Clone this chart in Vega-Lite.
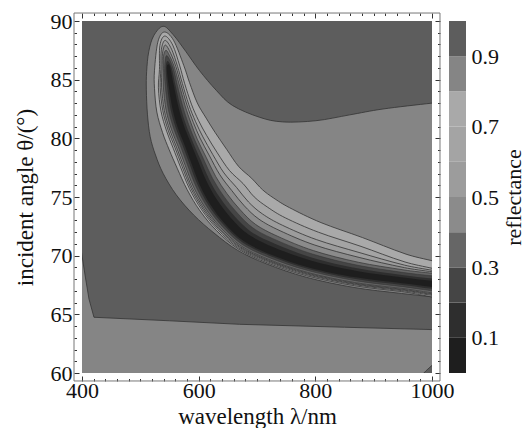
{
"$schema": "https://vega.github.io/schema/vega-lite/v6.json",
"padding": {"left": 14, "top": 10, "right": 1, "bottom": 0},
"bounds": "flush",
"spacing": 17,
"config": {"view": {"stroke": null}, "font": "Liberation Serif, Times New Roman, DejaVu Serif, serif"},
"datasets": {
"bar": [
{"lo":0,"hi":0.1,"v":0.05},{"lo":0.1,"hi":0.2,"v":0.15},{"lo":0.2,"hi":0.3,"v":0.25},{"lo":0.3,"hi":0.4,"v":0.35},{"lo":0.4,"hi":0.5,"v":0.45},
{"lo":0.5,"hi":0.6,"v":0.55},{"lo":0.6,"hi":0.7,"v":0.65},{"lo":0.7,"hi":0.8,"v":0.75},{"lo":0.8,"hi":0.9,"v":0.85},{"lo":0.9,"hi":1.0,"v":0.95}
],
"regions": [
{"g":0,"v":0.95,"x":400,"y":60},{"g":0,"v":0.95,"x":1000,"y":60},{"g":0,"v":0.95,"x":1000,"y":90},{"g":0,"v":0.95,"x":400,"y":90},
{"g":1,"v":0.85,"x":390,"y":73.2},{"g":1,"v":0.85,"x":400,"y":70.0},{"g":1,"v":0.85,"x":406,"y":68.1},{"g":1,"v":0.85,"x":412,"y":66.3},{"g":1,"v":0.85,"x":420.5,"y":64.75},{"g":1,"v":0.85,"x":550,"y":64.45},{"g":1,"v":0.85,"x":670,"y":64.15},{"g":1,"v":0.85,"x":850,"y":63.9},{"g":1,"v":0.85,"x":1000,"y":63.7},{"g":1,"v":0.85,"x":1012,"y":63.68},{"g":1,"v":0.85,"x":1012,"y":55},{"g":1,"v":0.85,"x":390,"y":55},
{"g":2,"v":0.95,"x":978,"y":59.6},{"g":2,"v":0.95,"x":990,"y":60.2},{"g":2,"v":0.95,"x":1000,"y":60.65},{"g":2,"v":0.95,"x":1012,"y":61.2},{"g":2,"v":0.95,"x":1012,"y":55},{"g":2,"v":0.95,"x":978,"y":55},
{"g":3,"v":0.85,"x":539,"y":89.55},{"g":3,"v":0.85,"x":523,"y":88.75},{"g":3,"v":0.85,"x":514.5,"y":87.4},{"g":3,"v":0.85,"x":510.8,"y":85.68},{"g":3,"v":0.85,"x":510.3,"y":84.13},{"g":3,"v":0.85,"x":512.2,"y":82.06},{"g":3,"v":0.85,"x":516.9,"y":80.14},{"g":3,"v":0.85,"x":526.0,"y":78.58},{"g":3,"v":0.85,"x":539.2,"y":77.0},{"g":3,"v":0.85,"x":561.5,"y":75.19},{"g":3,"v":0.85,"x":591.4,"y":73.47},{"g":3,"v":0.85,"x":626.3,"y":71.93},{"g":3,"v":0.85,"x":667.0,"y":70.45},{"g":3,"v":0.85,"x":716.8,"y":69.29},{"g":3,"v":0.85,"x":784.4,"y":68.16},{"g":3,"v":0.85,"x":866.4,"y":67.29},{"g":3,"v":0.85,"x":947.5,"y":66.78},{"g":3,"v":0.85,"x":1037.6,"y":66.28},{"g":3,"v":0.85,"x":1060,"y":66.1},{"g":3,"v":0.85,"x":1060,"y":83.3},{"g":3,"v":0.85,"x":1000,"y":83.0},{"g":3,"v":0.85,"x":916,"y":82.5},{"g":3,"v":0.85,"x":859,"y":82.0},{"g":3,"v":0.85,"x":801,"y":81.5},{"g":3,"v":0.85,"x":744,"y":81.4},{"g":3,"v":0.85,"x":704,"y":81.8},{"g":3,"v":0.85,"x":658,"y":82.8},{"g":3,"v":0.85,"x":630,"y":84.1},{"g":3,"v":0.85,"x":601,"y":85.8},{"g":3,"v":0.85,"x":578,"y":87.4},{"g":3,"v":0.85,"x":556,"y":88.85},
{"g":4,"v":0.75,"x":541,"y":89.06},{"g":4,"v":0.75,"x":530,"y":88.2},{"g":4,"v":0.75,"x":524.3,"y":85.80},{"g":4,"v":0.75,"x":524.3,"y":84.25},{"g":4,"v":0.75,"x":528.3,"y":82.24},{"g":4,"v":0.75,"x":538.1,"y":80.49},{"g":4,"v":0.75,"x":549.5,"y":79.02},{"g":4,"v":0.75,"x":563.2,"y":77.45},{"g":4,"v":0.75,"x":580.3,"y":75.62},{"g":4,"v":0.75,"x":602.3,"y":73.82},{"g":4,"v":0.75,"x":630.8,"y":72.13},{"g":4,"v":0.75,"x":668.4,"y":70.56},{"g":4,"v":0.75,"x":717.6,"y":69.39},{"g":4,"v":0.75,"x":785.1,"y":68.29},{"g":4,"v":0.75,"x":866.9,"y":67.44},{"g":4,"v":0.75,"x":947.8,"y":66.94},{"g":4,"v":0.75,"x":1037.9,"y":66.44},{"g":4,"v":0.75,"x":1043.3,"y":68.79},{"g":4,"v":0.75,"x":955.5,"y":70.13},{"g":4,"v":0.75,"x":880.9,"y":71.54},{"g":4,"v":0.75,"x":809.6,"y":72.82},{"g":4,"v":0.75,"x":755.8,"y":74.09},{"g":4,"v":0.75,"x":728.3,"y":74.92},{"g":4,"v":0.75,"x":709.2,"y":75.63},{"g":4,"v":0.75,"x":690.7,"y":76.60},{"g":4,"v":0.75,"x":668.4,"y":77.61},{"g":4,"v":0.75,"x":648.0,"y":79.06},{"g":4,"v":0.75,"x":628.1,"y":80.51},{"g":4,"v":0.75,"x":612.9,"y":81.72},{"g":4,"v":0.75,"x":597.6,"y":83.02},{"g":4,"v":0.75,"x":584.2,"y":84.77},{"g":4,"v":0.75,"x":574.4,"y":86.22},{"g":4,"v":0.75,"x":557,"y":88.35},
{"g":5,"v":0.65,"x":542,"y":88.72},{"g":5,"v":0.65,"x":533.5,"y":87.9},{"g":5,"v":0.65,"x":532.8,"y":85.87},{"g":5,"v":0.65,"x":531.0,"y":84.31},{"g":5,"v":0.65,"x":535.4,"y":82.32},{"g":5,"v":0.65,"x":545.1,"y":80.61},{"g":5,"v":0.65,"x":556.4,"y":79.15},{"g":5,"v":0.65,"x":568.8,"y":77.56},{"g":5,"v":0.65,"x":584.2,"y":75.71},{"g":5,"v":0.65,"x":605.2,"y":73.91},{"g":5,"v":0.65,"x":632.7,"y":72.22},{"g":5,"v":0.65,"x":669.4,"y":70.63},{"g":5,"v":0.65,"x":718.3,"y":69.48},{"g":5,"v":0.65,"x":785.5,"y":68.38},{"g":5,"v":0.65,"x":867.2,"y":67.53},{"g":5,"v":0.65,"x":948.0,"y":67.02},{"g":5,"v":0.65,"x":1038.1,"y":66.52},{"g":5,"v":0.65,"x":1042.1,"y":68.28},{"g":5,"v":0.65,"x":953.8,"y":69.46},{"g":5,"v":0.65,"x":878.3,"y":70.79},{"g":5,"v":0.65,"x":805.2,"y":72.0},{"g":5,"v":0.65,"x":748.7,"y":73.22},{"g":5,"v":0.65,"x":717.6,"y":74.15},{"g":5,"v":0.65,"x":695.2,"y":75.01},{"g":5,"v":0.65,"x":676.2,"y":76.14},{"g":5,"v":0.65,"x":652.8,"y":77.26},{"g":5,"v":0.65,"x":632.0,"y":78.76},{"g":5,"v":0.65,"x":613.7,"y":80.24},{"g":5,"v":0.65,"x":599.9,"y":81.51},{"g":5,"v":0.65,"x":587.6,"y":82.91},{"g":5,"v":0.65,"x":575.8,"y":84.70},{"g":5,"v":0.65,"x":567.6,"y":86.17},{"g":5,"v":0.65,"x":555.5,"y":87.95},
{"g":6,"v":0.55,"x":542.5,"y":88.35},{"g":6,"v":0.55,"x":536,"y":87.55},{"g":6,"v":0.55,"x":535.2,"y":85.89},{"g":6,"v":0.55,"x":534.0,"y":84.33},{"g":6,"v":0.55,"x":538.5,"y":82.36},{"g":6,"v":0.55,"x":548.0,"y":80.65},{"g":6,"v":0.55,"x":559.4,"y":79.21},{"g":6,"v":0.55,"x":571.6,"y":77.61},{"g":6,"v":0.55,"x":586.6,"y":75.76},{"g":6,"v":0.55,"x":607.2,"y":73.97},{"g":6,"v":0.55,"x":634.3,"y":72.29},{"g":6,"v":0.55,"x":670.4,"y":70.70},{"g":6,"v":0.55,"x":718.9,"y":69.55},{"g":6,"v":0.55,"x":785.9,"y":68.45},{"g":6,"v":0.55,"x":867.4,"y":67.59},{"g":6,"v":0.55,"x":948.2,"y":67.09},{"g":6,"v":0.55,"x":1038.3,"y":66.59},{"g":6,"v":0.55,"x":1042.0,"y":68.21},{"g":6,"v":0.55,"x":953.2,"y":69.19},{"g":6,"v":0.55,"x":876.5,"y":70.25},{"g":6,"v":0.55,"x":801.8,"y":71.37},{"g":6,"v":0.55,"x":743.6,"y":72.59},{"g":6,"v":0.55,"x":709.5,"y":73.55},{"g":6,"v":0.55,"x":685.5,"y":74.57},{"g":6,"v":0.55,"x":665.2,"y":75.80},{"g":6,"v":0.55,"x":643.4,"y":77.05},{"g":6,"v":0.55,"x":624.3,"y":78.61},{"g":6,"v":0.55,"x":607.3,"y":80.12},{"g":6,"v":0.55,"x":594.7,"y":81.42},{"g":6,"v":0.55,"x":583.2,"y":82.86},{"g":6,"v":0.55,"x":572.1,"y":84.67},{"g":6,"v":0.55,"x":563.8,"y":86.13},{"g":6,"v":0.55,"x":553.5,"y":87.6},
{"g":7,"v":0.45,"x":543,"y":87.95},{"g":7,"v":0.45,"x":538,"y":87.25},{"g":7,"v":0.45,"x":537.2,"y":85.91},{"g":7,"v":0.45,"x":536.5,"y":84.36},{"g":7,"v":0.45,"x":541.1,"y":82.39},{"g":7,"v":0.45,"x":550.6,"y":80.70},{"g":7,"v":0.45,"x":561.9,"y":79.26},{"g":7,"v":0.45,"x":574.0,"y":77.66},{"g":7,"v":0.45,"x":588.7,"y":75.81},{"g":7,"v":0.45,"x":608.9,"y":74.03},{"g":7,"v":0.45,"x":635.6,"y":72.35},{"g":7,"v":0.45,"x":671.3,"y":70.76},{"g":7,"v":0.45,"x":719.4,"y":69.61},{"g":7,"v":0.45,"x":786.2,"y":68.51},{"g":7,"v":0.45,"x":867.6,"y":67.65},{"g":7,"v":0.45,"x":948.3,"y":67.14},{"g":7,"v":0.45,"x":1038.4,"y":66.64},{"g":7,"v":0.45,"x":1041.8,"y":68.16},{"g":7,"v":0.45,"x":952.7,"y":68.98},{"g":7,"v":0.45,"x":875.1,"y":69.85},{"g":7,"v":0.45,"x":799.2,"y":70.90},{"g":7,"v":0.45,"x":739.7,"y":72.12},{"g":7,"v":0.45,"x":703.4,"y":73.11},{"g":7,"v":0.45,"x":678.2,"y":74.25},{"g":7,"v":0.45,"x":656.9,"y":75.54},{"g":7,"v":0.45,"x":636.4,"y":76.89},{"g":7,"v":0.45,"x":618.6,"y":78.50},{"g":7,"v":0.45,"x":602.4,"y":80.02},{"g":7,"v":0.45,"x":590.8,"y":81.36},{"g":7,"v":0.45,"x":580.0,"y":82.83},{"g":7,"v":0.45,"x":569.3,"y":84.64},{"g":7,"v":0.45,"x":561.0,"y":86.11},{"g":7,"v":0.45,"x":552,"y":87.25},
{"g":8,"v":0.35,"x":544,"y":87.5},{"g":8,"v":0.35,"x":539.5,"y":86.95},{"g":8,"v":0.35,"x":539.6,"y":85.93},{"g":8,"v":0.35,"x":539.5,"y":84.38},{"g":8,"v":0.35,"x":544.1,"y":82.42},{"g":8,"v":0.35,"x":553.5,"y":80.74},{"g":8,"v":0.35,"x":564.8,"y":79.31},{"g":8,"v":0.35,"x":576.8,"y":77.71},{"g":8,"v":0.35,"x":591.2,"y":75.86},{"g":8,"v":0.35,"x":611.0,"y":74.09},{"g":8,"v":0.35,"x":637.2,"y":72.42},{"g":8,"v":0.35,"x":672.3,"y":70.84},{"g":8,"v":0.35,"x":720.0,"y":69.68},{"g":8,"v":0.35,"x":786.6,"y":68.57},{"g":8,"v":0.35,"x":867.8,"y":67.71},{"g":8,"v":0.35,"x":948.5,"y":67.21},{"g":8,"v":0.35,"x":1038.5,"y":66.71},{"g":8,"v":0.35,"x":1041.7,"y":68.11},{"g":8,"v":0.35,"x":952.2,"y":68.78},{"g":8,"v":0.35,"x":873.7,"y":69.44},{"g":8,"v":0.35,"x":796.7,"y":70.43},{"g":8,"v":0.35,"x":735.9,"y":71.64},{"g":8,"v":0.35,"x":697.4,"y":72.67},{"g":8,"v":0.35,"x":671.0,"y":73.92},{"g":8,"v":0.35,"x":648.6,"y":75.28},{"g":8,"v":0.35,"x":629.4,"y":76.73},{"g":8,"v":0.35,"x":612.8,"y":78.39},{"g":8,"v":0.35,"x":597.6,"y":79.93},{"g":8,"v":0.35,"x":586.9,"y":81.30},{"g":8,"v":0.35,"x":576.7,"y":82.79},{"g":8,"v":0.35,"x":566.5,"y":84.62},{"g":8,"v":0.35,"x":558.1,"y":86.09},{"g":8,"v":0.35,"x":551,"y":86.95},
{"g":9,"v":0.25,"x":545,"y":87.05},{"g":9,"v":0.25,"x":541.6,"y":85.95},{"g":9,"v":0.25,"x":542.8,"y":84.41},{"g":9,"v":0.25,"x":548.0,"y":82.46},{"g":9,"v":0.25,"x":557.3,"y":80.81},{"g":9,"v":0.25,"x":568.5,"y":79.38},{"g":9,"v":0.25,"x":580.5,"y":77.78},{"g":9,"v":0.25,"x":594.8,"y":75.95},{"g":9,"v":0.25,"x":614.1,"y":74.19},{"g":9,"v":0.25,"x":639.8,"y":72.53},{"g":9,"v":0.25,"x":674.2,"y":70.97},{"g":9,"v":0.25,"x":721.2,"y":69.83},{"g":9,"v":0.25,"x":787.4,"y":68.73},{"g":9,"v":0.25,"x":868.4,"y":67.87},{"g":9,"v":0.25,"x":948.8,"y":67.36},{"g":9,"v":0.25,"x":1038.9,"y":66.86},{"g":9,"v":0.25,"x":1041.3,"y":67.93},{"g":9,"v":0.25,"x":951.7,"y":68.56},{"g":9,"v":0.25,"x":872.8,"y":69.18},{"g":9,"v":0.25,"x":795.1,"y":70.14},{"g":9,"v":0.25,"x":733.3,"y":71.32},{"g":9,"v":0.25,"x":693.2,"y":72.36},{"g":9,"v":0.25,"x":665.4,"y":73.68},{"g":9,"v":0.25,"x":642.7,"y":75.09},{"g":9,"v":0.25,"x":623.7,"y":76.60},{"g":9,"v":0.25,"x":607.8,"y":78.30},{"g":9,"v":0.25,"x":593.4,"y":79.85},{"g":9,"v":0.25,"x":582.6,"y":81.22},{"g":9,"v":0.25,"x":572.7,"y":82.74},{"g":9,"v":0.25,"x":563.2,"y":84.59},{"g":9,"v":0.25,"x":555.7,"y":86.07},
{"g":10,"v":0.15,"x":546.5,"y":86.6},{"g":10,"v":0.15,"x":543.6,"y":85.96},{"g":10,"v":0.15,"x":545.9,"y":84.44},{"g":10,"v":0.15,"x":551.6,"y":82.51},{"g":10,"v":0.15,"x":560.9,"y":80.87},{"g":10,"v":0.15,"x":572.0,"y":79.45},{"g":10,"v":0.15,"x":584.0,"y":77.85},{"g":10,"v":0.15,"x":598.2,"y":76.02},{"g":10,"v":0.15,"x":617.1,"y":74.28},{"g":10,"v":0.15,"x":642.3,"y":72.65},{"g":10,"v":0.15,"x":675.9,"y":71.10},{"g":10,"v":0.15,"x":722.4,"y":69.98},{"g":10,"v":0.15,"x":788.2,"y":68.87},{"g":10,"v":0.15,"x":868.9,"y":68.01},{"g":10,"v":0.15,"x":949.2,"y":67.51},{"g":10,"v":0.15,"x":1039.2,"y":67.01},{"g":10,"v":0.15,"x":1040.9,"y":67.75},{"g":10,"v":0.15,"x":951.2,"y":68.34},{"g":10,"v":0.15,"x":872.0,"y":68.92},{"g":10,"v":0.15,"x":793.5,"y":69.85},{"g":10,"v":0.15,"x":730.7,"y":71.01},{"g":10,"v":0.15,"x":689.1,"y":72.07},{"g":10,"v":0.15,"x":660.1,"y":73.44},{"g":10,"v":0.15,"x":637.0,"y":74.91},{"g":10,"v":0.15,"x":618.3,"y":76.48},{"g":10,"v":0.15,"x":603.0,"y":78.21},{"g":10,"v":0.15,"x":589.3,"y":79.78},{"g":10,"v":0.15,"x":578.4,"y":81.16},{"g":10,"v":0.15,"x":568.8,"y":82.70},{"g":10,"v":0.15,"x":560.1,"y":84.56},{"g":10,"v":0.15,"x":553.3,"y":86.05},
{"g":11,"v":0.05,"x":548,"y":86.3},{"g":11,"v":0.05,"x":545.3,"y":85.98},{"g":11,"v":0.05,"x":548.7,"y":84.46},{"g":11,"v":0.05,"x":555.0,"y":82.54},{"g":11,"v":0.05,"x":564.1,"y":80.92},{"g":11,"v":0.05,"x":575.2,"y":79.51},{"g":11,"v":0.05,"x":587.2,"y":77.91},{"g":11,"v":0.05,"x":601.3,"y":76.09},{"g":11,"v":0.05,"x":619.9,"y":74.37},{"g":11,"v":0.05,"x":644.6,"y":72.75},{"g":11,"v":0.05,"x":677.6,"y":71.22},{"g":11,"v":0.05,"x":723.4,"y":70.11},{"g":11,"v":0.05,"x":788.9,"y":69.0},{"g":11,"v":0.05,"x":869.3,"y":68.15},{"g":11,"v":0.05,"x":949.5,"y":67.65},{"g":11,"v":0.05,"x":1039.5,"y":67.15},{"g":11,"v":0.05,"x":1040.5,"y":67.59},{"g":11,"v":0.05,"x":950.7,"y":68.14},{"g":11,"v":0.05,"x":871.2,"y":68.70},{"g":11,"v":0.05,"x":792.1,"y":69.59},{"g":11,"v":0.05,"x":728.4,"y":70.72},{"g":11,"v":0.05,"x":685.5,"y":71.80},{"g":11,"v":0.05,"x":655.3,"y":73.22},{"g":11,"v":0.05,"x":631.8,"y":74.74},{"g":11,"v":0.05,"x":613.4,"y":76.37},{"g":11,"v":0.05,"x":598.6,"y":78.12},{"g":11,"v":0.05,"x":585.6,"y":79.71},{"g":11,"v":0.05,"x":574.7,"y":81.09},{"g":11,"v":0.05,"x":565.3,"y":82.66},{"g":11,"v":0.05,"x":557.3,"y":84.54},{"g":11,"v":0.05,"x":551.2,"y":86.03}
]
},
"hconcat": [
{
"width": 350, "height": 352,
"data": {"name": "regions"},
"resolve": {"axis": {"x": "independent", "y": "independent"}},
"layer": [
{"transform": [{"filter": "datum.g == 0"}],
 "mark": {"type": "line", "interpolate": "linear-closed", "strokeOpacity": 0, "clip": true},
 "encoding": {
  "x": {"field": "x", "type": "quantitative", "scale": {"domain": [400, 1000], "nice": false, "zero": false},
        "axis": {"orient": "bottom", "offset": 8, "values": [400, 600, 800, 1000], "format": "d", "tickSize": -5, "tickColor": "#333", "domain": false, "grid": false, "labelFont": "Liberation Serif, Times New Roman, DejaVu Serif, serif", "labelFontSize": 22, "labelColor": "#111", "labelPadding": 4, "labelFlush": false, "labelOverlap": false, "title": "wavelength λ/nm", "titleFont": "Liberation Serif, Times New Roman, DejaVu Serif, serif", "titleFontSize": 23, "titleFontWeight": "normal", "titleColor": "#111", "titlePadding": 4}},
  "y": {"field": "y", "type": "quantitative", "scale": {"domain": [60, 90], "nice": false, "zero": false},
        "axis": {"orient": "left", "offset": 8, "values": [60, 65, 70, 75, 80, 85, 90], "tickSize": -5, "tickColor": "#333", "domain": false, "grid": false, "labelFont": "Liberation Serif, Times New Roman, DejaVu Serif, serif", "labelFontSize": 22, "labelColor": "#111", "labelPadding": 7, "labelFlush": false, "labelOverlap": false, "title": "incident angle θ/(°)", "titleFont": "Liberation Serif, Times New Roman, DejaVu Serif, serif", "titleFontSize": 23, "titleFontWeight": "normal", "titleColor": "#111", "titlePadding": 13}},
  "order": {"value": null},
  "fill": {"field": "v", "type": "quantitative", "scale": {"type": "threshold", "domain": [0.1,0.2,0.3,0.4,0.5,0.6,0.7,0.8,0.9], "range": ["#1e1e1e","#2e2e2e","#454545","#666666","#8b8b8b","#9c9c9c","#a4a4a4","#a9a9a9","#858585","#5d5d5d"]}, "legend": null}
 }},
{"transform": [{"filter": "datum.g == 1"}],
 "mark": {"type": "line", "interpolate": "linear-closed", "stroke": "#333333", "strokeWidth": 0.8, "clip": true},
 "encoding": {
  "x": {"field": "x", "type": "quantitative", "scale": {"domain": [400, 1000], "nice": false, "zero": false},
        "axis": {"orient": "bottom", "offset": 8, "values": [420,440,460,480,500,520,540,560,580,620,640,660,680,700,720,740,760,780,820,840,860,880,900,920,940,960,980], "tickSize": -2.5, "tickColor": "#333", "labels": false, "domain": false, "grid": false, "title": null}},
  "y": {"field": "y", "type": "quantitative", "scale": {"domain": [60, 90], "nice": false, "zero": false},
        "axis": {"orient": "left", "offset": 8, "values": [61,62,63,64,66,67,68,69,71,72,73,74,76,77,78,79,81,82,83,84,86,87,88,89], "tickSize": -2.5, "tickColor": "#333", "labels": false, "domain": false, "grid": false, "title": null}},
  "order": {"value": null},
  "fill": {"field": "v", "type": "quantitative", "scale": {"type": "threshold", "domain": [0.1,0.2,0.3,0.4,0.5,0.6,0.7,0.8,0.9], "range": ["#1e1e1e","#2e2e2e","#454545","#666666","#8b8b8b","#9c9c9c","#a4a4a4","#a9a9a9","#858585","#5d5d5d"]}, "legend": null}
 }},
{"transform": [{"filter": "datum.g == 2"}],
 "mark": {"type": "line", "interpolate": "linear-closed", "stroke": "#333333", "strokeWidth": 0.8, "clip": true},
 "encoding": {
  "x": {"field": "x", "type": "quantitative", "scale": {"domain": [400, 1000], "nice": false, "zero": false},
        "axis": {"orient": "top", "offset": 8, "values": [400, 600, 800, 1000], "tickSize": -5, "tickColor": "#333", "labels": false, "domain": false, "grid": false, "title": null}},
  "y": {"field": "y", "type": "quantitative", "scale": {"domain": [60, 90], "nice": false, "zero": false},
        "axis": {"orient": "right", "offset": 8, "values": [60, 65, 70, 75, 80, 85, 90], "tickSize": -5, "tickColor": "#333", "labels": false, "domain": false, "grid": false, "title": null}},
  "order": {"value": null},
  "fill": {"field": "v", "type": "quantitative", "scale": {"type": "threshold", "domain": [0.1,0.2,0.3,0.4,0.5,0.6,0.7,0.8,0.9], "range": ["#1e1e1e","#2e2e2e","#454545","#666666","#8b8b8b","#9c9c9c","#a4a4a4","#a9a9a9","#858585","#5d5d5d"]}, "legend": null}
 }},
{"transform": [{"filter": "datum.g == 3"}],
 "mark": {"type": "line", "interpolate": "cardinal-closed", "stroke": "#333333", "strokeWidth": 0.8, "clip": true},
 "encoding": {
  "x": {"field": "x", "type": "quantitative", "scale": {"domain": [400, 1000], "nice": false, "zero": false},
        "axis": {"orient": "top", "offset": 8, "values": [420,440,460,480,500,520,540,560,580,620,640,660,680,700,720,740,760,780,820,840,860,880,900,920,940,960,980], "tickSize": -2.5, "tickColor": "#333", "labels": false, "domain": false, "grid": false, "title": null}},
  "y": {"field": "y", "type": "quantitative", "scale": {"domain": [60, 90], "nice": false, "zero": false},
        "axis": {"orient": "right", "offset": 8, "values": [61,62,63,64,66,67,68,69,71,72,73,74,76,77,78,79,81,82,83,84,86,87,88,89], "tickSize": -2.5, "tickColor": "#333", "labels": false, "domain": false, "grid": false, "title": null}},
  "order": {"value": null},
  "fill": {"field": "v", "type": "quantitative", "scale": {"type": "threshold", "domain": [0.1,0.2,0.3,0.4,0.5,0.6,0.7,0.8,0.9], "range": ["#1e1e1e","#2e2e2e","#454545","#666666","#8b8b8b","#9c9c9c","#a4a4a4","#a9a9a9","#858585","#5d5d5d"]}, "legend": null}
 }},
{"transform": [{"filter": "datum.g == 4"}],
 "mark": {"type": "line", "interpolate": "cardinal-closed", "stroke": "#333333", "strokeWidth": 0.8, "clip": true},
 "encoding": {
  "x": {"field": "x", "type": "quantitative", "scale": {"domain": [400, 1000], "nice": false, "zero": false}, "axis": null},
  "y": {"field": "y", "type": "quantitative", "scale": {"domain": [60, 90], "nice": false, "zero": false}, "axis": null},
  "order": {"value": null},
  "fill": {"field": "v", "type": "quantitative", "scale": {"type": "threshold", "domain": [0.1,0.2,0.3,0.4,0.5,0.6,0.7,0.8,0.9], "range": ["#1e1e1e","#2e2e2e","#454545","#666666","#8b8b8b","#9c9c9c","#a4a4a4","#a9a9a9","#858585","#5d5d5d"]}, "legend": null}
 }},
{"transform": [{"filter": "datum.g == 5"}],
 "mark": {"type": "line", "interpolate": "cardinal-closed", "stroke": "#333333", "strokeWidth": 0.8, "clip": true},
 "encoding": {
  "x": {"field": "x", "type": "quantitative", "scale": {"domain": [400, 1000], "nice": false, "zero": false}, "axis": null},
  "y": {"field": "y", "type": "quantitative", "scale": {"domain": [60, 90], "nice": false, "zero": false}, "axis": null},
  "order": {"value": null},
  "fill": {"field": "v", "type": "quantitative", "scale": {"type": "threshold", "domain": [0.1,0.2,0.3,0.4,0.5,0.6,0.7,0.8,0.9], "range": ["#1e1e1e","#2e2e2e","#454545","#666666","#8b8b8b","#9c9c9c","#a4a4a4","#a9a9a9","#858585","#5d5d5d"]}, "legend": null}
 }},
{"transform": [{"filter": "datum.g == 6"}],
 "mark": {"type": "line", "interpolate": "cardinal-closed", "stroke": "#333333", "strokeWidth": 0.8, "clip": true},
 "encoding": {
  "x": {"field": "x", "type": "quantitative", "scale": {"domain": [400, 1000], "nice": false, "zero": false}, "axis": null},
  "y": {"field": "y", "type": "quantitative", "scale": {"domain": [60, 90], "nice": false, "zero": false}, "axis": null},
  "order": {"value": null},
  "fill": {"field": "v", "type": "quantitative", "scale": {"type": "threshold", "domain": [0.1,0.2,0.3,0.4,0.5,0.6,0.7,0.8,0.9], "range": ["#1e1e1e","#2e2e2e","#454545","#666666","#8b8b8b","#9c9c9c","#a4a4a4","#a9a9a9","#858585","#5d5d5d"]}, "legend": null}
 }},
{"transform": [{"filter": "datum.g == 7"}],
 "mark": {"type": "line", "interpolate": "cardinal-closed", "stroke": "#333333", "strokeWidth": 0.8, "clip": true},
 "encoding": {
  "x": {"field": "x", "type": "quantitative", "scale": {"domain": [400, 1000], "nice": false, "zero": false}, "axis": null},
  "y": {"field": "y", "type": "quantitative", "scale": {"domain": [60, 90], "nice": false, "zero": false}, "axis": null},
  "order": {"value": null},
  "fill": {"field": "v", "type": "quantitative", "scale": {"type": "threshold", "domain": [0.1,0.2,0.3,0.4,0.5,0.6,0.7,0.8,0.9], "range": ["#1e1e1e","#2e2e2e","#454545","#666666","#8b8b8b","#9c9c9c","#a4a4a4","#a9a9a9","#858585","#5d5d5d"]}, "legend": null}
 }},
{"transform": [{"filter": "datum.g == 8"}],
 "mark": {"type": "line", "interpolate": "cardinal-closed", "stroke": "#333333", "strokeWidth": 0.7, "clip": true},
 "encoding": {
  "x": {"field": "x", "type": "quantitative", "scale": {"domain": [400, 1000], "nice": false, "zero": false}, "axis": null},
  "y": {"field": "y", "type": "quantitative", "scale": {"domain": [60, 90], "nice": false, "zero": false}, "axis": null},
  "order": {"value": null},
  "fill": {"field": "v", "type": "quantitative", "scale": {"type": "threshold", "domain": [0.1,0.2,0.3,0.4,0.5,0.6,0.7,0.8,0.9], "range": ["#1e1e1e","#2e2e2e","#454545","#666666","#8b8b8b","#9c9c9c","#a4a4a4","#a9a9a9","#858585","#5d5d5d"]}, "legend": null}
 }},
{"transform": [{"filter": "datum.g == 9"}],
 "mark": {"type": "line", "interpolate": "cardinal-closed", "stroke": "#333333", "strokeWidth": 0.5, "clip": true},
 "encoding": {
  "x": {"field": "x", "type": "quantitative", "scale": {"domain": [400, 1000], "nice": false, "zero": false}, "axis": null},
  "y": {"field": "y", "type": "quantitative", "scale": {"domain": [60, 90], "nice": false, "zero": false}, "axis": null},
  "order": {"value": null},
  "fill": {"field": "v", "type": "quantitative", "scale": {"type": "threshold", "domain": [0.1,0.2,0.3,0.4,0.5,0.6,0.7,0.8,0.9], "range": ["#1e1e1e","#2e2e2e","#454545","#666666","#8b8b8b","#9c9c9c","#a4a4a4","#a9a9a9","#858585","#5d5d5d"]}, "legend": null}
 }},
{"transform": [{"filter": "datum.g == 10"}],
 "mark": {"type": "line", "interpolate": "cardinal-closed", "strokeOpacity": 0, "clip": true},
 "encoding": {
  "x": {"field": "x", "type": "quantitative", "scale": {"domain": [400, 1000], "nice": false, "zero": false}, "axis": null},
  "y": {"field": "y", "type": "quantitative", "scale": {"domain": [60, 90], "nice": false, "zero": false}, "axis": null},
  "order": {"value": null},
  "fill": {"field": "v", "type": "quantitative", "scale": {"type": "threshold", "domain": [0.1,0.2,0.3,0.4,0.5,0.6,0.7,0.8,0.9], "range": ["#1e1e1e","#2e2e2e","#454545","#666666","#8b8b8b","#9c9c9c","#a4a4a4","#a9a9a9","#858585","#5d5d5d"]}, "legend": null}
 }},
{"transform": [{"filter": "datum.g == 11"}],
 "mark": {"type": "line", "interpolate": "cardinal-closed", "strokeOpacity": 0, "clip": true},
 "encoding": {
  "x": {"field": "x", "type": "quantitative", "scale": {"domain": [400, 1000], "nice": false, "zero": false}, "axis": null},
  "y": {"field": "y", "type": "quantitative", "scale": {"domain": [60, 90], "nice": false, "zero": false}, "axis": null},
  "order": {"value": null},
  "fill": {"field": "v", "type": "quantitative", "scale": {"type": "threshold", "domain": [0.1,0.2,0.3,0.4,0.5,0.6,0.7,0.8,0.9], "range": ["#1e1e1e","#2e2e2e","#454545","#666666","#8b8b8b","#9c9c9c","#a4a4a4","#a9a9a9","#858585","#5d5d5d"]}, "legend": null}
 }},
{"data": {"values": [{}]},
 "mark": {"type": "rect", "fill": "transparent", "stroke": "#777", "strokeWidth": 1, "clip": false},
 "encoding": {
  "x": {"datum": 386.3, "type": "quantitative", "scale": {"domain": [400, 1000], "nice": false, "zero": false}, "axis": null},
  "x2": {"datum": 1013.7},
  "y": {"datum": 59.32, "type": "quantitative", "scale": {"domain": [60, 90], "nice": false, "zero": false}, "axis": null},
  "y2": {"datum": 90.68}
 }}
]
},
{
"width": 17, "height": 352,
"data": {"name": "bar"},
"mark": {"type": "rect"},
"encoding": {
 "x": {"datum": 0, "type": "quantitative", "scale": {"domain": [0, 1], "nice": false, "zero": false}, "axis": null},
 "x2": {"datum": 1},
 "y": {"field": "lo", "type": "quantitative", "scale": {"domain": [0, 1], "nice": false, "zero": false},
       "axis": {"orient": "right", "values": [0.1, 0.3, 0.5, 0.7, 0.9], "format": ".1f", "ticks": false, "domain": false, "grid": false, "labelFont": "Liberation Serif, Times New Roman, DejaVu Serif, serif", "labelFontSize": 22, "labelColor": "#111", "labelPadding": 5, "title": "reflectance", "titleFont": "Liberation Serif, Times New Roman, DejaVu Serif, serif", "titleFontSize": 22, "titleFontWeight": "normal", "titleColor": "#111", "titleAngle": 270, "titleBaseline": "middle", "titleAlign": "center", "titleX": 47, "titleY": 176}},
 "y2": {"field": "hi"},
 "fill": {"field": "v", "type": "quantitative", "scale": {"type": "threshold", "domain": [0.1,0.2,0.3,0.4,0.5,0.6,0.7,0.8,0.9], "range": ["#1e1e1e","#2e2e2e","#454545","#666666","#8b8b8b","#9c9c9c","#a4a4a4","#a9a9a9","#858585","#5d5d5d"]}, "legend": null}
}
}
]
}
